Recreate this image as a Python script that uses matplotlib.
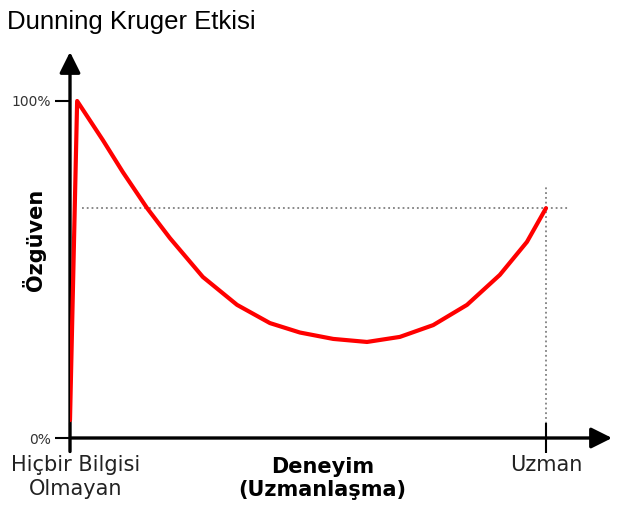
import matplotlib.pyplot as plt
from matplotlib.transforms import ScaledTranslation

# experience (0 = no knowledge, 1 = expert) vs confidence (0..1)
experience = [0.0, 0.015, 0.069, 0.111, 0.162, 0.210, 0.279, 0.351, 0.420, 0.483,
              0.553, 0.624, 0.693, 0.763, 0.834, 0.903, 0.960, 1.0]
confidence = [0.053, 1.0, 0.884, 0.789, 0.682, 0.593, 0.478, 0.395, 0.341, 0.313,
              0.294, 0.285, 0.300, 0.335, 0.395, 0.484, 0.582, 0.682]

expert_level = 0.682
ytick_vals = [0, 1]
ytick_labels = ['0%', '100%']
xtick_vals = [0, 1]
xtick_labels = ['Hiçbir Bilgisi\nOlmayan', 'Uzman']

fig = plt.figure(figsize=(6.4, 5.18), dpi=100)
ax = fig.add_axes([70 / 640, 80 / 518, 542 / 640, 386 / 518])
xmax, ymax = 542 / 476, 386 / 337
ax.set_xlim(0, xmax)
ax.set_ylim(0, ymax)
ax.set_axisbelow(False)

for s in ax.spines.values():
    s.set_visible(False)

# axes with arrow heads
arrow = dict(arrowstyle='-|>,head_length=0.9,head_width=0.45', lw=2.4, color='black',
             shrinkA=0, shrinkB=0, mutation_scale=14)
ax.annotate('', xy=(xmax, 0), xytext=(0, 0), arrowprops=arrow, annotation_clip=False)
ax.annotate('', xy=(0, ymax), xytext=(0, -0.04), arrowprops=arrow, annotation_clip=False)

# reference dotted lines
ax.plot([0.025, 1.05], [expert_level, expert_level], ls=':', color='gray', lw=1.3)
ax.plot([1, 1], [0, 0.75], ls=':', color='gray', lw=1.3)

ax.plot(experience, confidence, color='red', lw=3, solid_capstyle='round',
        solid_joinstyle='round', zorder=3)

ax.set_yticks(ytick_vals)
ax.set_yticklabels(ytick_labels, fontsize=10, color='#333333')
ax.tick_params(axis='y', direction='out', length=11, width=1.5, pad=3)
ax.set_xticks(xtick_vals)
ax.set_xticklabels(xtick_labels, fontsize=15, color='#222222', linespacing=1.25)
ax.tick_params(axis='x', direction='inout', length=22, width=1.5, pad=1)
first = ax.get_xticklabels()[0]
first.set_transform(first.get_transform() + ScaledTranslation(6 / 100, 0, fig.dpi_scale_trans))

ax.text(0.53, -0.05, 'Deneyim\n(Uzmanlaşma)', transform=ax.get_xaxis_transform(),
        ha='center', va='top', fontsize=15, fontweight='bold', linespacing=1.15)
ax.set_ylabel('Özgüven', fontsize=15, fontweight='bold')
ax.yaxis.set_label_coords(-0.045, 0.513)

fig.text(7 / 640, 1 - 22 / 518, 'Dunning Kruger Etkisi', fontsize=18.5,
         family='Liberation Sans', ha='left', va='center')

fig.savefig('out.png', dpi=100, facecolor='white')
